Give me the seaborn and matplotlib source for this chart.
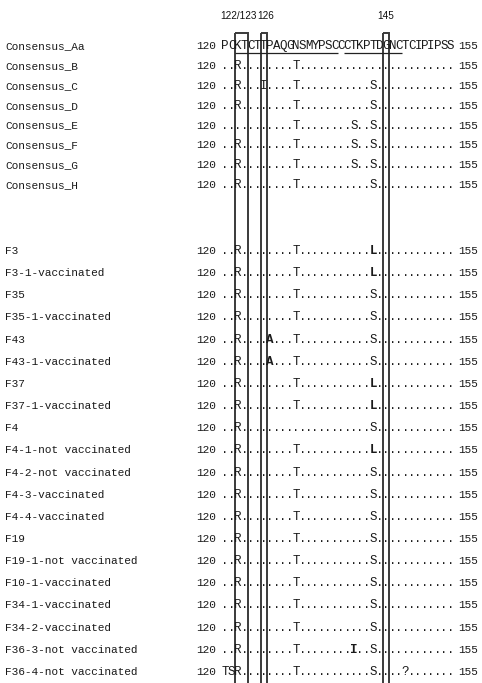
import matplotlib
matplotlib.use("Agg")
import matplotlib.pyplot as plt
import seaborn as sns
from matplotlib.patches import Rectangle

# Alignment window (HBsAg residues)
START, END = 120, 155

consensus_names = [
    "Consensus_Aa", "Consensus_B", "Consensus_C", "Consensus_D",
    "Consensus_E", "Consensus_F", "Consensus_G", "Consensus_H",
]
consensus_seqs = [
    "PCKTCTTPAQGNSMYPSCCCTKPTDGNCTCIPIPSS",
    "..R........T........................",
    "..R...I....T...........S............",
    "..R........T...........S............",
    "...........T........S..S............",
    "..R........T........S..S............",
    "..R........T........S..S............",
    "..R........T...........S............",
]

sample_names = [
    "F3", "F3-1-vaccinated", "F35", "F35-1-vaccinated", "F43",
    "F43-1-vaccinated", "F37", "F37-1-vaccinated", "F4",
    "F4-1-not vaccinated", "F4-2-not vaccinated", "F4-3-vaccinated",
    "F4-4-vaccinated", "F19", "F19-1-not vaccinated", "F10-1-vaccinated",
    "F34-1-vaccinated", "F34-2-vaccinated", "F36-3-not vaccinated",
    "F36-4-not vaccinated",
]
sample_seqs = [
    "..R........T...........L............",
    "..R........T...........L............",
    "..R........T...........S............",
    "..R........T...........S............",
    "..R....A...T...........S............",
    "..R....A...T...........S............",
    "..R........T...........L............",
    "..R........T...........L............",
    "..R....................S............",
    "..R........T...........L............",
    "..R........T...........S............",
    "..R........T...........S............",
    "..R........T...........S............",
    "..R........T...........S............",
    "..R........T...........S............",
    "..R........T...........S............",
    "..R........T...........S............",
    "..R........T...........S............",
    "..R........T........I..S............",
    "TSR........T...........S....?.......",
]

# residues printed in bold (row name -> residue numbers)
bold_residues = {
    "F3": [143], "F3-1-vaccinated": [143], "F37": [143],
    "F37-1-vaccinated": [143], "F4-1-not vaccinated": [143],
    "F43": [127], "F43-1-vaccinated": [127],
    "F36-3-not vaccinated": [140],
}

# boxed sites: (first residue, last residue, label)
boxed_sites = [(122, 123, "122/123"), (126, 126, "126"), (145, 145, "145")]
# underlined stretches of the consensus sequence
underlined = [(122, 137), (139, 147)]

# ---- layout ----
W, H = 482, 683
CELL = 6.43            # width of one residue column
SEQ_X0 = 222           # left edge of residue 120
CONS_Y0, CONS_STEP = 46, 19.9
SAMP_Y0, SAMP_STEP = 251, 22.15
BOX_TOP = 33

sns.set_theme(style="white")
plt.rcParams["font.family"] = ["Liberation Mono", "DejaVu Sans Mono"]

fig = plt.figure(figsize=(W / 100, H / 100), dpi=100)
ax = fig.add_axes([0, 0, 1, 1])
x_left = START - 0.5 - SEQ_X0 / CELL
ax.set_xlim(x_left, START - 0.5 + (W - SEQ_X0) / CELL)
ax.set_ylim(H, 0)
ax.axis("off")

name_x = x_left + 5 / CELL
start_x = x_left + 196 / CELL
end_x = x_left + 458 / CELL

seq_font = dict(fontsize=9.0, color="#1a1a1a", ha="center", va="center")
lab_font = dict(fontsize=8.0, color="#1a1a1a", va="center")


def draw_row(y, name, seq):
    ax.text(name_x, y, name, ha="left", **lab_font)
    ax.text(start_x, y, str(START), ha="left", **lab_font)
    ax.text(end_x, y, str(END), ha="left", **lab_font)
    bolds = bold_residues.get(name, [])
    for i, ch in enumerate(seq):
        pos = START + i
        ax.text(pos, y, ch, fontweight="bold" if pos in bolds else "normal",
                **seq_font)


for i, (n, s) in enumerate(zip(consensus_names, consensus_seqs)):
    draw_row(CONS_Y0 + i * CONS_STEP, n, s)
for j, (n, s) in enumerate(zip(sample_names, sample_seqs)):
    draw_row(SAMP_Y0 + j * SAMP_STEP, n, s)

# underline the two loops of the consensus
for a, b in underlined:
    ax.plot([a - 0.5, b + 0.5], [CONS_Y0 + 6.5] * 2, color="#222222", lw=0.9,
            solid_capstyle="butt")

# boxes running down the alignment, with site labels on top
label_shift = {"122/123": -0.4, "126": 0.3, "145": 0.0}
for a, b, lab in boxed_sites:
    ax.add_patch(Rectangle((a - 0.5, BOX_TOP), b - a + 1, H,
                           fill=False, ec="#3a3a3a", lw=1.4))
    ax.text((a + b) / 2 + label_shift[lab], 16, lab, ha="center",
            va="center", fontsize=7.2, color="#111111",
            family=["Liberation Sans Narrow", "Liberation Sans", "DejaVu Sans"])

fig.savefig("out.png", dpi=100)
